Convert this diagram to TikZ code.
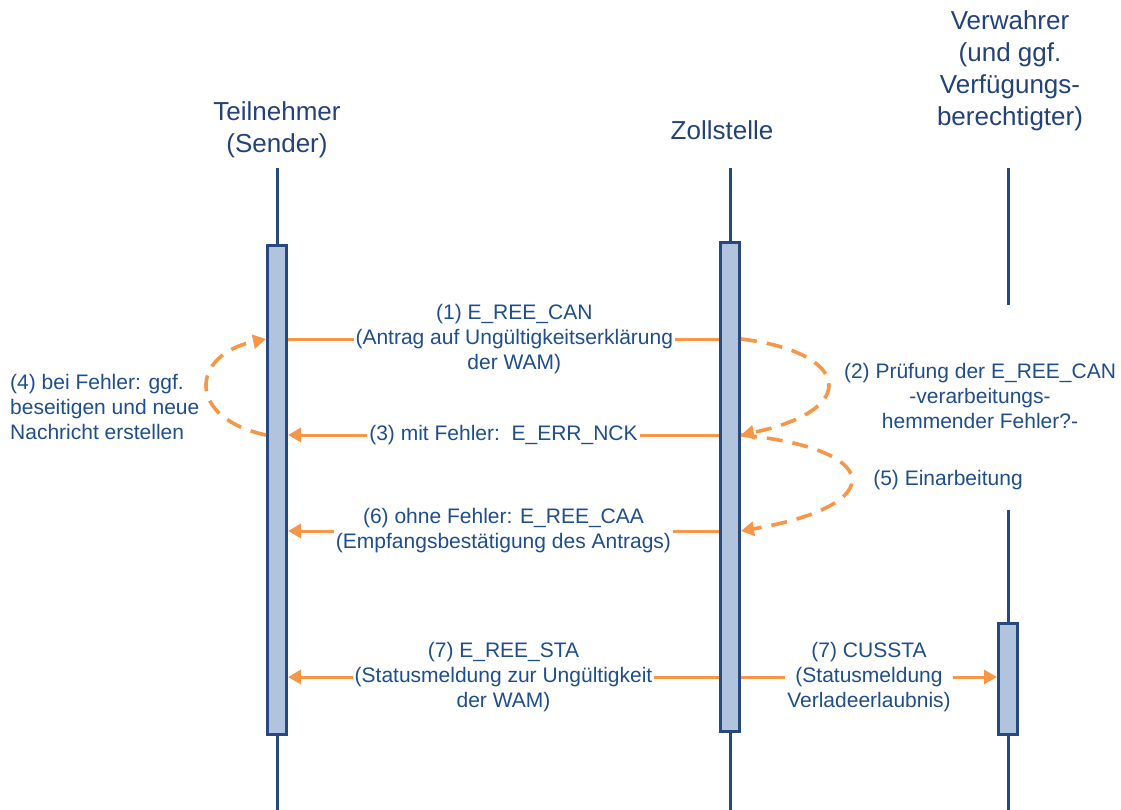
\documentclass[tikz,border=0pt]{standalone}
\usepackage{fontspec}
\setmainfont{Liberation Sans}
\usetikzlibrary{arrows.meta,positioning}
\definecolor{txtblue}{RGB}{31,78,140}
\definecolor{headblue}{RGB}{34,66,120}
\definecolor{lineblue}{RGB}{40,72,128}
\definecolor{boxfill}{RGB}{176,196,222}
\definecolor{msgorange}{RGB}{247,150,70}

\begin{document}
\begin{tikzpicture}[x=1pt,y=-1pt,
  lifeline/.style={lineblue, line width=3pt},
  actbox/.style={draw=lineblue, fill=boxfill, line width=3pt, minimum width=19pt, inner sep=0pt},
  head/.style={headblue, font=\fontsize{26}{32}\selectfont, align=center},
  lbl/.style={txtblue, font=\fontsize{21}{25}\selectfont, align=center, fill=white, inner sep=2pt},
  msg/.style={msgorange, line width=3pt, -{Triangle[length=13pt,width=14pt]}},
  plainmsg/.style={msgorange, line width=3pt},
  loopmsg/.style={msg, line width=3.6pt, dash pattern=on 16pt off 10pt}]
\useasboundingbox (0,0) rectangle (1121,810);

% Participants
\node[head] (tname) at (277,130) {Teilnehmer\\(Sender)};
\node[head] (zname) at (722,130) {Zollstelle};
\node[head] (vname) at (1010,71) {Verwahrer\\(und ggf.\\Verfügungs-\\berechtigter)};

% Activation boxes
\node[actbox, minimum height=488pt] (tbox) at (277,490) {};
\node[actbox, minimum height=488pt] (zbox) at (730,487) {};
\node[actbox, minimum height=111pt] (vbox) at (1008,678.5) {};

% Lifelines
\coordinate (ttop) at (277,168);
\coordinate (tend) at (277,810);
\coordinate (ztop) at (730,168);
\coordinate (zend) at (730,810);
\coordinate (vtop) at (1008,168);
\coordinate (vgap1) at (1008,305);
\coordinate (vgap2) at (1008,510);
\coordinate (vend) at (1008,810);
\draw[lifeline] (ttop) -- (tbox.north);
\draw[lifeline] (tbox.south) -- (tend);
\draw[lifeline] (ztop) -- (zbox.north);
\draw[lifeline] (zbox.south) -- (zend);
\draw[lifeline] (vtop) -- (vgap1);
\draw[lifeline] (vgap2) -- (vbox.north);
\draw[lifeline] (vbox.south) -- (vend);

% Message levels
\coordinate (y1) at (0,339);
\coordinate (y3) at (0,435);
\coordinate (y6) at (0,531);
\coordinate (y7) at (0,677);

% Messages
\draw[plainmsg] (tbox.east |- y1) -- node[lbl, pos=0.525] (m1) {(1) E\_REE\_CAN\\(Antrag auf Ungültigkeitserklärung\\der WAM)} (zbox.west |- y1);
\draw[msg] (zbox.west |- y3) -- node[lbl] (m3) {(3) mit Fehler:\ \ E\_ERR\_NCK} (tbox.east |- y3);
\draw[msg] (zbox.west |- y6) -- node[lbl] (m6) {(6) ohne Fehler: E\_REE\_CAA\\(Empfangsbestätigung des Antrags)} (tbox.east |- y6);
\draw[msg] (zbox.west |- y7) -- node[lbl] (m7) {(7) E\_REE\_STA\\(Statusmeldung zur Ungültigkeit\\der WAM)} (tbox.east |- y7);
\draw[msg] (zbox.east |- y7) -- node[lbl] (m7b) {(7) CUSSTA\\(Statusmeldung\\Verladeerlaubnis)} (vbox.west |- y7);

% Self loops
\draw[loopmsg] (zbox.east |- y1) .. controls (850,352) and (862,410) .. (zbox.east |- y3);
\draw[loopmsg] (zbox.east |- y3) .. controls (882,448) and (892,505) .. (zbox.east |- y6);
\draw[loopmsg] (tbox.west |- y3) .. controls (186,418) and (190,355) .. (tbox.west |- y1);

% Loop labels
\node[lbl] (m2) at (980,396) {(2) Prüfung der E\_REE\_CAN\\-verarbeitungs-\\hemmender Fehler?-};
\node[lbl] (m5) at (948,480) {(5) Einarbeitung};
\node[lbl, align=left, anchor=west] (m4) at (8,407) {(4) bei Fehler: ggf.\\beseitigen und neue\\Nachricht erstellen};

\end{tikzpicture}
\end{document}
